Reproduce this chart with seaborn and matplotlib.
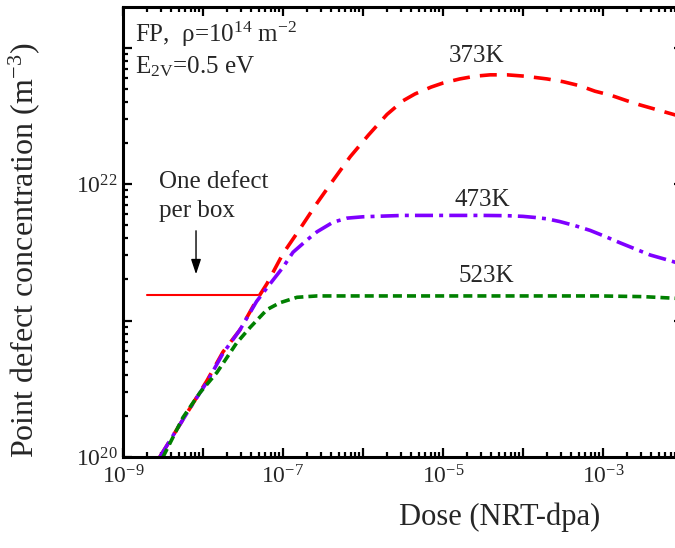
import numpy as np
import pandas as pd
import seaborn as sns
import matplotlib.pyplot as plt
from matplotlib.patches import FancyArrowPatch

sns.set_style("ticks")
plt.rcParams['font.family'] = ['Liberation Serif', 'DejaVu Serif']
plt.rcParams['mathtext.fontset'] = 'custom'
plt.rcParams['mathtext.rm'] = 'Liberation Serif'
plt.rcParams['mathtext.it'] = 'Liberation Serif:italic'

# log10 values
red_logx = [-8.54, -8.16, -7.95, -7.75, -7.54, -7.33, -7.2, -7.0, -6.79, -6.575, -6.37, -6.16,
            -5.93, -5.70, -5.5, -5.35, -5.15, -5.0, -4.79, -4.6, -4.41, -4.2, -3.975, -3.7,
            -3.5, -3.29, -3.1, -2.9, -2.7, -2.54, -2.3, -2.0]
red_logy = [20.0, 20.36, 20.56, 20.77, 20.93, 21.15, 21.27, 21.49, 21.67, 21.86, 22.03, 22.20,
            22.36, 22.51, 22.61, 22.66, 22.71, 22.74, 22.77, 22.79, 22.80, 22.80, 22.79, 22.77,
            22.75, 22.72, 22.68, 22.65, 22.61, 22.58, 22.54, 22.49]

purple_logx = [-8.54, -8.16, -7.95, -7.75, -7.54, -7.33, -7.16, -7.0, -6.875, -6.7, -6.575,
               -6.375, -6.2, -6.0, -5.5, -5.0, -4.5, -4.2, -4.0, -3.85, -3.7, -3.54, -3.35,
               -3.16, -2.97, -2.79, -2.6, -2.41, -2.2, -2.0]
purple_logy = [20.0, 20.36, 20.55, 20.76, 20.93, 21.14, 21.27, 21.39, 21.50, 21.59, 21.65,
               21.72, 21.75, 21.76, 21.77, 21.77, 21.77, 21.768, 21.763, 21.755, 21.745, 21.725,
               21.695, 21.66, 21.615, 21.57, 21.525, 21.48, 21.445, 21.41]

green_logx = [-8.5, -8.25, -8.04, -7.825, -7.58, -7.41, -7.2, -7.04, -6.825, -6.575, -6.0,
              -5.0, -4.0, -3.04, -2.5, -2.0]
green_logy = [20.0, 20.29, 20.47, 20.62, 20.835, 20.95, 21.08, 21.13, 21.17, 21.18, 21.18,
              21.18, 21.18, 21.18, 21.175, 21.16]

box_logx = [-8.7, -7.31]
box_logy = [21.19, 21.19]

temps = ["373K", "473K", "523K"]
colors = {"373K": "#ff0000", "473K": "#7f00ff", "523K": "#008000"}
dash_styles = {"373K": (4.7, 2.8), "473K": (5.0, 1.7, 1.1, 1.7), "523K": (2.5, 1.4)}

frames = []
for t, lx, ly in zip(temps, [red_logx, purple_logx, green_logx],
                     [red_logy, purple_logy, green_logy]):
    frames.append(pd.DataFrame({"dose": 10.0 ** np.array(lx),
                                "conc": 10.0 ** np.array(ly), "T": t}))
df = pd.concat(frames, ignore_index=True)

fig = plt.figure(figsize=(6.75, 5.48), dpi=100)
ax = fig.add_axes([123 / 675, 91 / 548, 560 / 675, 450 / 548])
ax.set_xscale("log")
ax.set_yscale("log")

sns.lineplot(data=df, x="dose", y="conc", hue="T", style="T", palette=colors,
             dashes=dash_styles, linewidth=2.6, sort=False, estimator=None,
             legend=False, ax=ax)
sns.lineplot(x=10.0 ** np.array(box_logx), y=10.0 ** np.array(box_logy),
             color="#ff0000", linewidth=1.5, ax=ax)

ytop = 10 ** 23.297
ax.set_xlim(1e-9, 1e-2)
ax.set_ylim(1e20, ytop)

ax.set_xticks([10.0 ** k for k in range(-9, -1)])
ax.set_xticklabels([r"$10^{%d}$" % k if k % 2 else "" for k in range(-9, -1)])
ax.set_yticks([10.0 ** k for k in range(20, 24)])
ax.set_yticklabels([r"$10^{%d}$" % k if k % 2 == 0 else "" for k in range(20, 24)])
ax.set_xticks([m * 10.0 ** k for k in range(-9, -2) for m in range(2, 10)], minor=True)
ax.set_yticks([m * 10.0 ** k for k in range(20, 24) for m in range(2, 10)
               if m * 10.0 ** k < ytop], minor=True)

ax.tick_params(which="both", direction="in", top=True, right=True, width=1.6, color="black")
ax.tick_params(which="minor", length=3.5)
ax.tick_params(which="major", length=6.5, labelsize=17)
ax.tick_params(axis="x", which="major", pad=6)
ax.tick_params(axis="y", which="major", pad=4)
for s in ax.spines.values():
    s.set_linewidth(2.2)
    s.set_color("black")

ax.set_xlabel("Dose (NRT-dpa)", fontsize=22)
ax.set_ylabel("Point defect concentration (m$^{-3}$)", fontsize=23)
ax.xaxis.set_label_coords(0.673, -0.1)
ax.yaxis.set_label_coords(-0.145, 0.46)

# annotations, placed in figure coordinates
fig.text(0.2, 0.9234, "FP,  ρ=10$^{14}$ m$^{-2}$", fontsize=18, va="baseline")
fig.text(0.2, 0.8668, "E$_{\\mathrm{2V}}$=0.5 eV", fontsize=18, va="baseline")
fig.text(0.7067, 0.8978, "373K", fontsize=18, ha="center", va="center")
fig.text(0.7141, 0.635, "473K", fontsize=18, ha="center", va="center")
fig.text(0.72, 0.4964, "523K", fontsize=18, ha="center", va="center")
fig.text(0.2356, 0.6569, "One defect", fontsize=18, va="baseline")
fig.text(0.2356, 0.604, "per box", fontsize=18, va="baseline")
arrow = FancyArrowPatch((0.2904, 0.5839), (0.2904, 0.4945), transform=fig.transFigure,
                        arrowstyle="-|>,head_width=0.2,head_length=0.6",
                        color="black", lw=1, mutation_scale=15)
fig.add_artist(arrow)

fig.canvas.draw()
ax.xaxis.get_minor_ticks()
ax.yaxis.get_minor_ticks()
fig.savefig("out.png", dpi=100)
